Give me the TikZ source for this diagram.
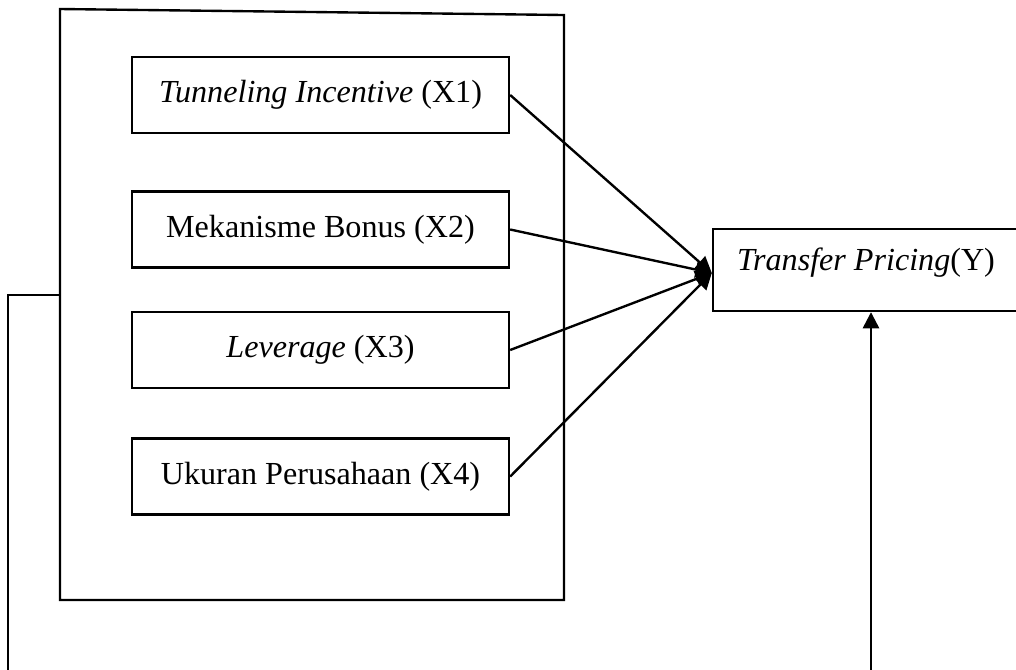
\documentclass[tikz,border=0pt]{standalone}
\usepackage{fontspec}
\setmainfont{Liberation Serif}
\usetikzlibrary{arrows.meta}
\begin{document}
\begin{tikzpicture}[x=0.4pt,y=-0.4pt,
  line width=0.95pt,
  varbox/.style={draw, rectangle, minimum width=150.8pt, minimum height=30.4pt, inner sep=0pt,
    font=\fontsize{12.85}{15}\selectfont},
  ybox/.style={draw, rectangle, minimum width=122.4pt, minimum height=32.8pt, inner sep=0pt,
    text height=9.5pt, text depth=9.5pt, font=\fontsize{12.85}{15}\selectfont},
  arr/.style={-{Triangle[length=6.5pt,width=6.5pt]}}
]
\useasboundingbox (0,0) rectangle (1016,669);
% outer frame
\coordinate (o1) at (60,9);
\coordinate (o2) at (564,15);
\coordinate (o3) at (564,600);
\coordinate (o4) at (60,600);
\draw (o1) -- (o2) -- (o3) -- (o4) -- cycle;
% variable boxes
\node[varbox] (x1) at (320.5,95) {\textit{Tunneling Incentive} (X1)};
\node[varbox] (x2) at (320.5,229.5) {Mekanisme Bonus (X2)};
\node[varbox] (x3) at (320.5,350) {\textit{Leverage} (X3)};
\node[varbox] (x4) at (320.5,476.5) {Ukuran Perusahaan (X4)};
\node[ybox] (y) at (866,270) {\textit{Transfer Pricing}(Y)};
\coordinate (c) at (y.west |- 0,273);
\draw[arr] (x1.east) -- (c);
\draw[arr] (x2.east) -- (c);
\draw[arr] (x3.east) -- (c);
\draw[arr] (x4.east) -- (c);
% feedback lines
\coordinate (l1) at (60,295);
\coordinate (l2) at (8,295);
\coordinate (l3) at (8,675);
\draw (l1) -- (l2) -- (l3);
\coordinate (r1) at (871,675);
\draw[arr] (r1) -- (r1 |- y.south);
\end{tikzpicture}
\end{document}
